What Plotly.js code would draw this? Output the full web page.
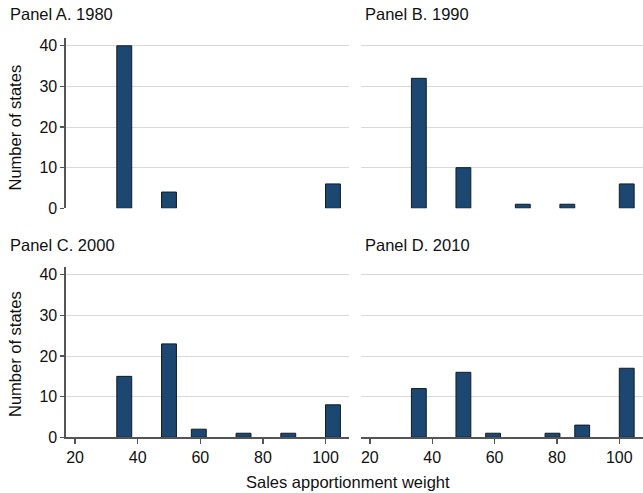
<!DOCTYPE html>
<html>
<head>
<meta charset="utf-8">
<script src="https://cdn.plot.ly/plotly-3.0.1.min.js"></script>
<style>html,body{margin:0;padding:0;background:#fff;}#chart{width:643px;height:493px;}</style>
</head>
<body>
<div id="chart"></div>
<script>
// Histogram bins (width 4.762, starting at 33.33): bar centers and counts
const binWidth = 4.762;
const panelA_x = [35.71, 50.00, 102.38];
const panelA_y = [40, 4, 6];
const panelB_x = [35.71, 50.00, 69.05, 83.33, 102.38];
const panelB_y = [32, 10, 1, 1, 6];
const panelC_x = [35.71, 50.00, 59.52, 73.81, 88.10, 102.38];
const panelC_y = [15, 23, 2, 1, 1, 8];
const panelD_x = [35.71, 50.00, 59.52, 78.57, 88.10, 102.38];
const panelD_y = [12, 16, 1, 1, 3, 17];
const panelTitles = ["Panel A. 1980", "Panel B. 1990", "Panel C. 2000", "Panel D. 2010"];
const xTickVals = [20, 40, 60, 80, 100];
const yTickVals = [0, 10, 20, 30, 40];

const W = 643, H = 493;
const px = v => v / W;
const py = v => 1 - v / H;

const barColor = "#1b4770";
const barLine = "#121c26";
const axisColor = "#555555";
const gridColor = "#d9d9d9";
const font = "Liberation Sans, Arial, Helvetica, sans-serif";

function bar(x, y, xa, ya) {
  return {
    type: "bar", x: x, y: y, width: binWidth, xaxis: xa, yaxis: ya,
    marker: {color: barColor, line: {color: barLine, width: 1}},
    hoverinfo: "x+y", showlegend: false
  };
}

const data = [
  bar(panelA_x, panelA_y, "x", "y"),
  bar(panelB_x, panelB_y, "x2", "y2"),
  bar(panelC_x, panelC_y, "x3", "y3"),
  bar(panelD_x, panelD_y, "x4", "y4")
];

const xr = [17, 107.6];
const yr = [0, 42];
const leftDom = [px(65.7), px(349.3)];
const rightDom = [px(360.5), px(643)];
const topDom = [py(208.3), py(37.7)];
const botDom = [py(437.3), py(266.7)];

function xTop(dom, anchor) {
  return {domain: dom, range: xr, anchor: anchor, showgrid: false, zeroline: false,
    showline: false, showticklabels: false, ticks: "", fixedrange: true};
}
function xBot(dom, anchor) {
  return {domain: dom, range: xr, anchor: anchor, showgrid: false, zeroline: false,
    showline: true, linecolor: axisColor, linewidth: 1.3,
    ticks: "outside", ticklen: 5, tickwidth: 1.3, tickcolor: axisColor,
    tickmode: "array", tickvals: xTickVals, ticktext: xTickVals.map(String),
    tickfont: {family: font, size: 16, color: "#111"}, fixedrange: true};
}
function yLeft(dom, anchor) {
  return {domain: dom, range: yr, anchor: anchor, showgrid: true, gridcolor: gridColor, gridwidth: 1,
    zeroline: false, showline: true, linecolor: axisColor, linewidth: 1.3,
    ticks: "outside", ticklen: 4, tickwidth: 1.3, tickcolor: axisColor,
    tickmode: "array", tickvals: yTickVals, ticktext: yTickVals.map(String),
    tickfont: {family: font, size: 16, color: "#111"}, fixedrange: true};
}
function yRight(dom, anchor) {
  return {domain: dom, range: yr, anchor: anchor, showgrid: true, gridcolor: gridColor, gridwidth: 1,
    zeroline: false, showline: false, showticklabels: false, ticks: "",
    tickmode: "array", tickvals: yTickVals, fixedrange: true};
}

const titleFont = {family: font, size: 16.5, color: "#111"};
const annotations = [
  {text: panelTitles[0], x: px(8), y: py(13.5)},
  {text: panelTitles[1], x: px(362.5), y: py(13.5)},
  {text: panelTitles[2], x: px(8), y: py(245)},
  {text: panelTitles[3], x: px(362.5), y: py(245)}
].map(a => Object.assign({xref: "paper", yref: "paper", xanchor: "left", yanchor: "middle",
  showarrow: false, font: titleFont}, a));

annotations.push({text: "Number of states", x: px(15), y: py(127.5), xref: "paper", yref: "paper",
  xanchor: "center", yanchor: "middle", textangle: -90, showarrow: false, font: titleFont});
annotations.push({text: "Number of states", x: px(15), y: py(354), xref: "paper", yref: "paper",
  xanchor: "center", yanchor: "middle", textangle: -90, showarrow: false, font: titleFont});
annotations.push({text: "Sales apportionment weight", x: px(347.5), y: py(482), xref: "paper", yref: "paper",
  xanchor: "center", yanchor: "middle", showarrow: false, font: titleFont});

const layout = {
  width: W, height: H,
  margin: {l: 0, r: 0, t: 0, b: 0},
  paper_bgcolor: "#ffffff", plot_bgcolor: "#ffffff",
  font: {family: font, color: "#111"},
  showlegend: false,
  xaxis: xTop(leftDom, "y"),
  yaxis: yLeft(topDom, "x"),
  xaxis2: xTop(rightDom, "y2"),
  yaxis2: yRight(topDom, "x2"),
  xaxis3: xBot(leftDom, "y3"),
  yaxis3: yLeft(botDom, "x3"),
  xaxis4: xBot(rightDom, "y4"),
  yaxis4: yRight(botDom, "x4"),
  annotations: annotations
};

Plotly.newPlot("chart", data, layout, {displayModeBar: false, staticPlot: true});
</script>
</body>
</html>
